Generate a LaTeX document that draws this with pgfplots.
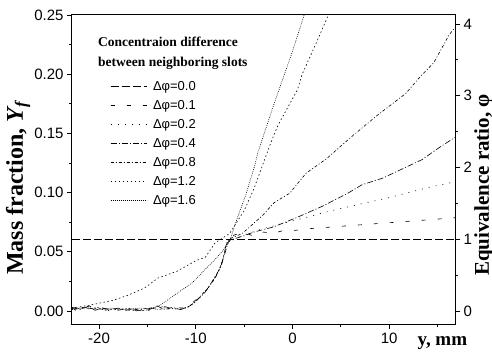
\documentclass[border=0pt]{standalone}
\usepackage{pgfplots}
\pgfplotsset{compat=1.18}
\usepackage{fontspec}
\setmainfont{Liberation Serif}
\newfontfamily\arial{Liberation Sans}
\begin{document}
\begin{tikzpicture}
\pgfplotsset{
  common/.style={
    scale only axis, width=383pt, height=309pt,
    xmin=-22.8, xmax=16.8,
    tick align=outside,
    major tick length=5pt, minor tick length=3pt,
    tick style={black, line width=0.8pt},
    axis line style={line width=1pt},
    ticklabel style={font=\arial\fontsize{15}{17}\selectfont},
  }
}
\begin{axis}[common, name=main,
  ymin=-0.011, ymax=0.25,
  xtick={-20,-10,0,10}, xticklabels={-20,-10,0,10},
  minor xtick={-15,-5,5,15},
  ytick={0,0.05,0.10,0.15,0.20,0.25},
  yticklabels={0.00,0.05,0.10,0.15,0.20,0.25},
  minor ytick={0.025,0.075,0.125,0.175,0.225},
  xtick pos=bottom, ytick pos=left,
  ylabel={\bfseries Mass fraction, {\itshape Y}\textsubscript{\itshape f}},
  ylabel style={font=\fontsize{24}{26}\selectfont, at={(axis description cs:-0.141,0.44)}, anchor=center},
  xlabel={\bfseries y, mm},
  xlabel style={font=\fontsize{19}{21}\selectfont, at={(axis description cs:0.893,-0.062)}, anchor=west},
]
\end{axis}
\begin{axis}[common,
  ymin=-0.1815, ymax=4.125,
  axis x line=none, axis y line*=right,
  ytick={0,1,2,3,4}, yticklabels={0,1,2,3,4},
  minor ytick={0.5,1.5,2.5,3.5},
  ylabel={\bfseries Equivalence ratio, φ},
  ylabel style={font=\fontsize{21}{23}\selectfont, at={(axis description cs:1.075,0.45)}, anchor=center, rotate=0},
  legend image code/.code={\draw[#1] (0pt,0pt) -- (36pt,0pt); \path (41pt,0pt);},
  legend style={draw=none, fill=none, at={(axis description cs:0.092,0.80)}, anchor=north west,
    font=\arial\fontsize{13}{15}\selectfont, row sep=5pt,
    nodes={inner sep=1pt, text height=10pt, text depth=2pt}},
  legend cell align=left,
  every axis plot/.append style={black, line width=0.6pt},
]
% Delta phi = 0.0
\addplot[dash pattern=on 8pt off 3pt] coordinates {(-22.8,1.0) (-15,1.0) (-7,1.0) (0,1.0) (8,1.0) (16.8,1.0)};
\addlegendentry{Δφ=0.0}
% Delta phi = 0.1
\addplot[dash pattern=on 4pt off 12pt] coordinates {
(-22.8,0.03) (-22.2,0.06) (-21.6,0.04) (-21.0,0.07) (-20.4,0.03) (-19.8,0.05) (-19.2,0.02) (-18.6,0.04) (-18.0,0.01) (-17.4,0.03) (-16.8,0.0) (-16.2,0.02) (-15.6,0.01) (-15.0,0.03) (-14.4,0.05) (-13.8,0.03) (-13.2,0.06) (-12.6,0.04) (-12.0,0.05) (-11.4,0.04) (-10.9,0.05) (-10.3,0.12) (-9.6,0.2) (-8.9,0.29) (-8.2,0.43) (-7.7,0.53) (-7.3,0.67) (-7.0,0.85) (-6.7,1.0)
(-6,1.06) (-5,1.1) (-4,1.04) (-3,1.1) (-2,1.08) (-1,1.12) (0,1.12) (2,1.15) (4,1.17) (6,1.19) (8,1.21) (10,1.23) (12,1.25) (14,1.27) (16.8,1.3)};
\addlegendentry{Δφ=0.1}
% Delta phi = 0.2
\addplot[dash pattern=on 1pt off 6pt] coordinates {
(-22.5,0.01) (-21.9,0.04) (-21.3,0.02) (-20.7,0.05) (-20.1,0.02) (-19.5,0.03) (-18.9,0.0) (-18.3,0.02) (-17.7,0.03) (-17.1,0.0) (-16.5,0.02) (-15.9,-0.01) (-15.3,0.02) (-14.7,0.0) (-14.1,0.03) (-13.5,0.06) (-12.9,0.03) (-12.3,0.02) (-11.7,0.05) (-11.1,0.03) (-10.6,0.07) (-10.0,0.13) (-9.3,0.24) (-8.6,0.34) (-8.0,0.45) (-7.5,0.6) (-7.1,0.78) (-6.8,0.95)
(-5,1.06) (-3,1.15) (-1,1.22) (1,1.29) (3.5,1.38) (6,1.46) (8,1.52) (10,1.58) (12,1.65) (14,1.72) (16.8,1.8)};
\addlegendentry{Δφ=0.2}
% Delta phi = 0.4
\addplot[dash pattern=on 6pt off 2pt on 1pt off 2pt] coordinates {
(-22.8,0.05) (-22.0,0.02) (-21.2,0.06) (-20.4,0.01) (-19.6,0.04) (-18.8,0.02) (-18.0,0.04) (-17.2,0.01) (-16.4,0.03) (-15.6,0.0) (-14.8,0.02) (-14.0,0.07) (-13.2,0.02) (-12.4,0.05) (-11.6,0.02) (-11.0,0.04) (-10.4,0.09) (-9.8,0.16) (-9.1,0.25) (-8.5,0.37) (-7.9,0.5) (-7.4,0.62) (-7.0,0.8) (-6.6,0.98)
(-5,1.05) (-4,1.1) (-2,1.17) (0.4,1.3) (3.1,1.46) (5.7,1.64) (7.2,1.76) (9.3,1.85) (12.3,2.04) (13.4,2.11) (15.2,2.28) (16.8,2.42)};
\addlegendentry{Δφ=0.4}
% Delta phi = 0.8
\addplot[dash pattern=on 3pt off 2pt on 1pt off 2pt] coordinates {
(-22.6,0.02) (-21.8,0.05) (-21.0,0.03) (-20.2,0.05) (-19.4,0.01) (-18.6,0.03) (-17.8,0.02) (-17.0,0.04) (-16.2,0.0) (-15.4,0.03) (-14.6,0.04) (-13.8,0.02) (-13.0,0.05) (-12.2,0.03) (-11.4,0.03) (-10.8,0.06) (-10.2,0.11) (-9.5,0.21) (-8.8,0.31) (-8.1,0.44) (-7.6,0.57) (-7.2,0.72) (-6.9,0.9) (-6.6,1.0)
(-5.2,1.08) (-3.1,1.33) (-1.9,1.51) (-0.3,1.64) (1.4,1.92) (3.5,2.12) (6.2,2.44) (8.7,2.72) (11.7,3.03) (13.1,3.25) (14.6,3.46) (16.2,3.85) (16.8,3.95)};
\addlegendentry{Δφ=0.8}
% Delta phi = 1.2
\addplot[dash pattern=on 1.5pt off 2.5pt] coordinates {
(-22.8,0.04) (-21,0.08) (-18.5,0.15) (-17,0.22) (-15.3,0.32) (-13.9,0.46) (-12,0.55) (-10,0.7) (-9,0.75) (-8,0.95) (-6.5,1.08) (-5,1.4) (-4,1.7) (-2.2,2.36) (-1.5,2.59) (0.5,3.08) (1,3.3) (2.5,3.75) (3.7,4.125)};
\addlegendentry{Δφ=1.2}
% Delta phi = 1.6
\addplot[dash pattern=on 0.8pt off 1.2pt] coordinates {
(-22.8,0.02) (-21.4,0.05) (-20.0,0.02) (-18.6,0.04) (-17.2,0.02) (-15.8,0.04) (-14.6,0.03) (-13.7,0.08) (-12,0.24) (-10.3,0.4) (-8.9,0.6) (-8.2,0.69) (-7.2,0.84) (-6.5,0.97) (-5.8,1.26) (-4.8,1.63) (-3.9,2.03) (-3.6,2.2) (-2,2.85) (0,3.62) (1.2,4.125)};
\addlegendentry{Δφ=1.6}
\node[anchor=north west, align=left, font=\bfseries\fontsize{13.5}{20}\selectfont, inner sep=0pt] at (axis description cs:0.068,0.93) {Concentraion difference\\between neighboring slots};
\end{axis}
\pgfresetboundingbox
\path (main.south west) ++(-72pt,-35pt) rectangle ++(492pt,359pt);
\end{tikzpicture}
\end{document}
